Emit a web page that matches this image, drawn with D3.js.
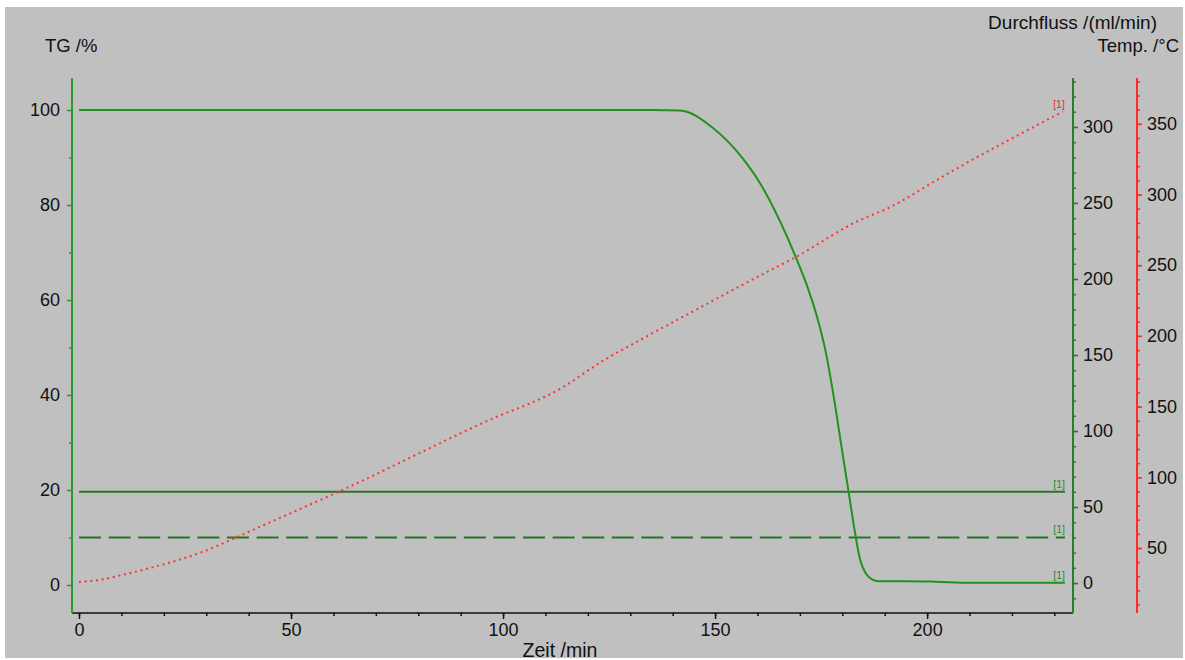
<!DOCTYPE html>
<html>
<head>
<meta charset="utf-8">
<script src="https://cdn.jsdelivr.net/npm/d3@7"></script>
<style>
  body { margin: 0; background: #fff; }
  text { font-family: "Liberation Sans", Arial, sans-serif; fill: #111; }
</style>
</head>
<body>
<div id="chart"></div>
<script>
// time axis ticks
var timeTicks = [0, 50, 100, 150, 200];
var tgTicks = [0, 20, 40, 60, 80, 100];
var flowTicks = [0, 50, 100, 150, 200, 250, 300];
var tempTicks = [50, 100, 150, 200, 250, 300, 350];

// TG curve /%
var tgTime  = [0, 135, 141.7, 149.5, 156.6, 160.6, 165.3, 168.9, 172, 174, 176, 178, 180, 181.5, 183, 184.2, 185.5, 187, 188.5, 195, 202, 210, 232.5];
var tgValue = [100, 100, 99.9, 96.2, 89.7, 84.6, 76.6, 69.3, 62.2, 56.6, 49.5, 39.5, 28, 19.5, 11, 5.3, 2.5, 1.2, 0.8, 0.8, 0.7, 0.5, 0.5];

// temperature /°C
var tempTime  = [0, 5, 10.1, 20, 23.4, 30.2, 35.6, 41.9, 61.6, 95, 114.6, 122.6, 132.3, 141, 161.2, 168.9, 184.2, 190.7, 203, 207.5, 232];
var tempValue = [26, 27.5, 30.9, 38.5, 41.5, 48.5, 55.5, 64, 90.3, 138.2, 164.6, 180.6, 197.1, 211.2, 243.6, 255.6, 282, 290.2, 311.5, 319.2, 358.6];

// gas flows /(ml/min)
var flowTime = [0, 232.5];
var flowPurge = [60, 60];
var flowProtect = [30, 30];

window.onload = function(){
    var width = 1185, height = 660;
    var svg = d3.select("#chart").append("svg")
        .attr("width", width).attr("height", height);

    svg.append("rect").attr("x", 5).attr("y", 7)
        .attr("width", 1178).attr("height", 651).attr("fill", "#c0c0c0");

    var left = 72, right = 1073, top = 78, bottom = 613;

    var x = d3.scaleLinear().domain([-1.65, 234.4]).range([left, right]);
    var yTG = d3.scaleLinear().domain([-5.89, 106.74]).range([bottom, top]);
    var yFlow = d3.scaleLinear().domain([-19.7, 332.2]).range([bottom, top]);
    var yTemp = d3.scaleLinear().domain([4.03, 382.4]).range([bottom, top]);

    var greenL = "#2a9a2a", greenR = "#2e7b2e", red = "#ff2a2a";

    function styleAxis(g, color){
        g.select(".domain").remove();
        g.selectAll(".tick line").attr("stroke", color).attr("stroke-width", 1.5);
        g.selectAll(".tick text").style("font-size", "18px")
            .style("font-family", "Liberation Sans, Arial, sans-serif").attr("fill", "#111");
    }

    // x axis
    var gx = svg.append("g").attr("transform", "translate(0," + bottom + ")");
    gx.call(d3.axisBottom(x).tickValues(d3.range(0, 231, 10)).tickSize(3).tickFormat(""));
    styleAxis(gx, "#111");
    var gx2 = svg.append("g").attr("transform", "translate(0," + bottom + ")");
    gx2.call(d3.axisBottom(x).tickValues(timeTicks).tickSize(6).tickPadding(4).tickFormat(d3.format("d")));
    styleAxis(gx2, "#111");
    svg.append("line").attr("x1", left).attr("x2", right).attr("y1", bottom).attr("y2", bottom)
        .attr("stroke", "#111").attr("stroke-width", 1.5);

    // left TG axis
    var gl = svg.append("g").attr("transform", "translate(" + left + ",0)");
    gl.call(d3.axisLeft(yTG).tickValues([10, 30, 50, 70, 90]).tickSize(3).tickFormat(""));
    styleAxis(gl, greenL);
    var gl2 = svg.append("g").attr("transform", "translate(" + left + ",0)");
    gl2.call(d3.axisLeft(yTG).tickValues(tgTicks).tickSize(5).tickPadding(7));
    styleAxis(gl2, greenL);
    svg.append("line").attr("x1", left).attr("x2", left).attr("y1", top).attr("y2", bottom)
        .attr("stroke", greenL).attr("stroke-width", 2);

    // flow axis
    var gf = svg.append("g").attr("transform", "translate(" + right + ",0)");
    gf.call(d3.axisRight(yFlow).tickValues(d3.range(-10, 331, 10)).tickSize(3).tickFormat(""));
    styleAxis(gf, greenR);
    var gf2 = svg.append("g").attr("transform", "translate(" + right + ",0)");
    gf2.call(d3.axisRight(yFlow).tickValues(flowTicks).tickSize(5).tickPadding(5));
    styleAxis(gf2, greenR);
    svg.append("line").attr("x1", right).attr("x2", right).attr("y1", top).attr("y2", bottom)
        .attr("stroke", greenR).attr("stroke-width", 2);

    // temperature axis
    var tx = 1137;
    var gt = svg.append("g").attr("transform", "translate(" + tx + ",0)");
    gt.call(d3.axisRight(yTemp).tickValues(d3.range(10, 381, 10)).tickSize(3).tickFormat(""));
    styleAxis(gt, red);
    var gt2 = svg.append("g").attr("transform", "translate(" + tx + ",0)");
    gt2.call(d3.axisRight(yTemp).tickValues(tempTicks).tickSize(5).tickPadding(5));
    styleAxis(gt2, red);
    svg.append("line").attr("x1", tx).attr("x2", tx).attr("y1", top).attr("y2", bottom)
        .attr("stroke", red).attr("stroke-width", 2);

    // titles
    svg.append("text").attr("x", 45).attr("y", 52).style("font-size", "18.5px").text("TG /%");
    svg.append("text").attr("x", 1157).attr("y", 29).attr("text-anchor", "end")
        .style("font-size", "19px").text("Durchfluss /(ml/min)");
    svg.append("text").attr("x", 1179).attr("y", 52).attr("text-anchor", "end")
        .style("font-size", "18.5px").text("Temp. /°C");
    svg.append("text").attr("x", 560).attr("y", 657).attr("text-anchor", "middle")
        .style("font-size", "19.5px").text("Zeit /min");

    function series(times, vals){
        return times.map(function(t, i){ return [t, vals[i]]; });
    }

    // flow lines
    var flowLine = d3.line().x(function(d){ return x(d[0]); }).y(function(d){ return yFlow(d[1]); });
    svg.append("path").datum(series(flowTime, flowPurge)).attr("d", flowLine)
        .attr("fill", "none").attr("stroke", "#267526").attr("stroke-width", 2);
    svg.append("path").datum(series(flowTime, flowProtect)).attr("d", flowLine)
        .attr("fill", "none").attr("stroke", "#267526").attr("stroke-width", 2)
        .attr("stroke-dasharray", "22,7.6");

    // temperature
    var tempLine = d3.line().curve(d3.curveMonotoneX)
        .x(function(d){ return x(d[0]); }).y(function(d){ return yTemp(d[1]); });
    svg.append("path").datum(series(tempTime, tempValue)).attr("d", tempLine)
        .attr("fill", "none").attr("stroke", "#ff3232").attr("stroke-width", 2)
        .attr("stroke-dasharray", "2,3.7");

    // TG
    var tgLine = d3.line().curve(d3.curveMonotoneX)
        .x(function(d){ return x(d[0]); }).y(function(d){ return yTG(d[1]); });
    svg.append("path").datum(series(tgTime, tgValue)).attr("d", tgLine)
        .attr("fill", "none").attr("stroke", "#1e931e").attr("stroke-width", 2);

    // series labels
    function label(xv, yv, color){
        svg.append("text").attr("x", xv).attr("y", yv).attr("text-anchor", "end")
            .style("font-size", "10.5px").attr("fill", color).style("fill", color).text("[1]");
    }
    var tEnd = tempTime[tempTime.length - 1];
    label(x(tEnd) + 2, yTemp(tempValue[tempValue.length - 1]) - 4, "#e03030");
    label(x(flowTime[1]), yFlow(flowPurge[1]) - 4, "#2a8a2a");
    label(x(flowTime[1]), yFlow(flowProtect[1]) - 4, "#2a8a2a");
    label(x(tgTime[tgTime.length - 1]), yTG(tgValue[tgValue.length - 1]) - 4, "#2a8a2a");
};
</script>
</body>
</html>
